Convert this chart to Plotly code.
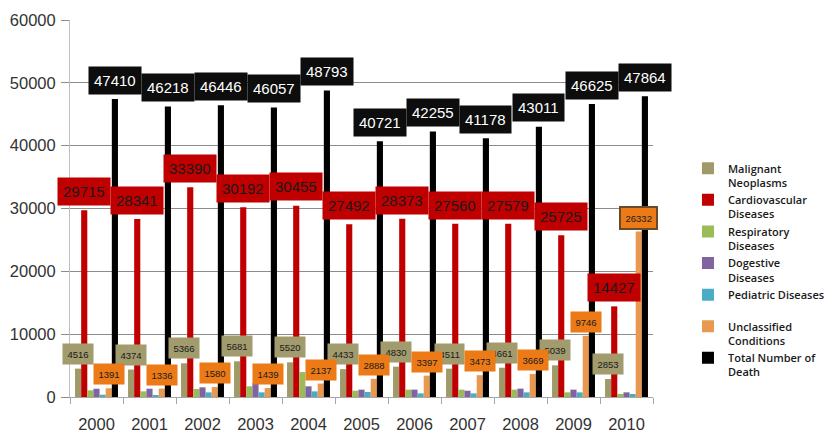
import plotly.graph_objects as go

# Deaths by cause, 2000-2010
years = ["2000", "2001", "2002", "2003", "2004", "2005", "2006", "2007", "2008", "2009", "2010"]
malignant = [4516, 4374, 5366, 5681, 5520, 4433, 4830, 4511, 4661, 5039, 2853]
cardiovascular = [29715, 28341, 33390, 30192, 30455, 27492, 28373, 27560, 27579, 25725, 14427]
respiratory = [1060, 900, 1270, 1700, 3970, 1000, 1170, 1170, 1170, 740, 480]
digestive = [1320, 1320, 1540, 2230, 1700, 1170, 1170, 1000, 1330, 1170, 740]
pediatric = [370, 320, 740, 740, 900, 800, 580, 580, 740, 740, 480]
unclassified = [1391, 1336, 1580, 1439, 2137, 2888, 3397, 3473, 3669, 9746, 26332]
total = [47410, 46218, 46446, 46057, 48793, 40721, 42255, 41178, 43011, 46625, 47864]

series_names = [
    "Malignant<br>Neoplasms",
    "Cardiovascular<br>Diseases",
    "Respiratory<br>Diseases",
    "Dogestive<br>Diseases",
    "Pediatric Diseases<br>&nbsp;",
    "Unclassified<br>Conditions",
    "Total Number of<br>Death",
]
series_values = [malignant, cardiovascular, respiratory, digestive, pediatric, unclassified, total]
bar_colors = ["#A09A68", "#C00000", "#9BBB59", "#8064A2", "#4BACC6", "#E8994F", "#000000"]

BARGAP = 0.19
n_series = len(series_values)
bar_w = (1 - BARGAP) / n_series

fig = go.Figure()
for name, vals, col in zip(series_names, series_values, bar_colors):
    fig.add_trace(go.Bar(x=years, y=vals, name=name, marker=dict(color=col, line=dict(width=0))))

# Boxed value labels for four of the series (index in the group, box style)
label_styles = [
    (0, malignant, dict(bg="#A19B6D", fc="#1a1a1a", size=9.5, pad=4.5, shift=15)),
    (5, unclassified, dict(bg="#EC7A16", fc="#1a1a1a", size=9.5, pad=4.5, shift=14)),
    (1, cardiovascular, dict(bg="#C00000", fc="#1a1a1a", size=15, pad=5, shift=18.7)),
    (6, total, dict(bg="#0d0d0d", fc="#ffffff", size=15, pad=5, shift=19)),
]

annotations = []
for k, vals, st in label_styles:
    for i, v in enumerate(vals):
        extra = {}
        if k == 5 and v == max(vals):
            extra = dict(bordercolor="#6B4A2A", borderwidth=2)
        annotations.append(dict(
            x=i + (k - (n_series - 1) / 2) * bar_w, y=v, xref="x", yref="y",
            text=str(v), showarrow=False, yshift=st["shift"],
            xanchor="center", yanchor="middle",
            bgcolor=st["bg"], borderpad=st["pad"],
            font=dict(family="Liberation Sans, Arial, sans-serif", size=st["size"], color=st["fc"]),
            **extra,
        ))

fig.update_layout(
    width=835, height=432,
    margin=dict(l=70, r=182, t=20, b=35, autoexpand=False),
    paper_bgcolor="white", plot_bgcolor="white",
    barmode="group", bargap=BARGAP, bargroupgap=0,
    annotations=annotations,
    font=dict(family="Liberation Sans, Arial, sans-serif", color="#404040"),
    showlegend=True,
    legend=dict(
        x=1.060, xanchor="left", y=0.643, yanchor="top",
        font=dict(family="Open Sans, Liberation Sans, sans-serif", size=11, color="#1a1a1a", weight=600),
        bgcolor="rgba(0,0,0,0)", valign="top", tracegroupgap=0,
    ),
    xaxis=dict(
        type="category", range=[-0.5, len(years) - 0.5], showgrid=False, showline=True,
        linecolor="#A6A6A6", linewidth=1,
        ticks="outside", tickson="boundaries", ticklen=6, tickcolor="#A6A6A6",
        tickfont=dict(size=16.5, color="#333333"), ticklabelstandoff=12, automargin=False,
    ),
    yaxis=dict(
        range=[0, 60000], dtick=10000, tickformat="d", showgrid=True, gridcolor="#8C8C8C", gridwidth=1,
        showline=True, linecolor="#BFBFBF", linewidth=1, zeroline=False,
        ticks="outside", ticklen=8, tickcolor="#8C8C8C",
        tickfont=dict(size=16.5, color="#333333"), ticklabelstandoff=2, automargin=False,
    ),
)

fig.write_html("out.html")
